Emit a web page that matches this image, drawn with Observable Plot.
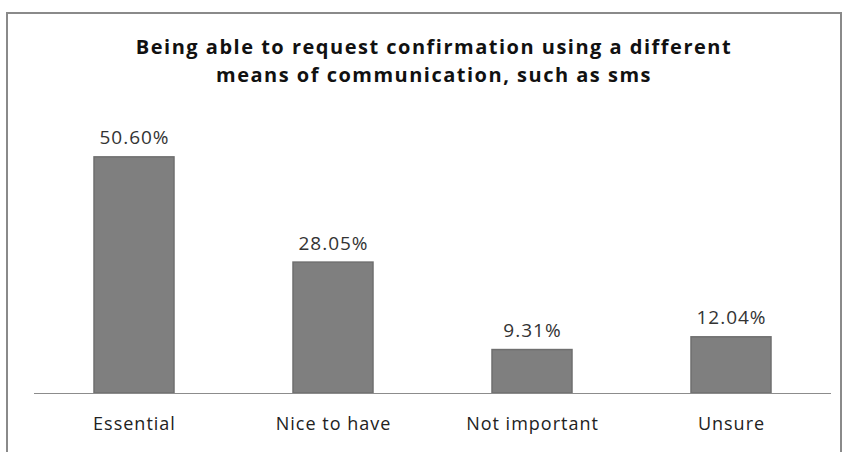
<!DOCTYPE html>
<html>
<head>
<meta charset="utf-8">
<script src="https://cdn.jsdelivr.net/npm/d3@7"></script>
<script src="https://cdn.jsdelivr.net/npm/@observablehq/plot@0.6"></script>
<style>
  html, body { margin: 0; padding: 0; background: #fff; }
  #wrap { position: relative; width: 844px; height: 452px; overflow: hidden; }
  #frame { position: absolute; left: 6px; top: 12px; width: 836px; height: 460px; border: 2px solid #8a8a8a; box-sizing: border-box; }
  #title { position: absolute; left: 0; top: 33px; width: 868px; text-align: center; font-family: "Open Sans", Lato, sans-serif; font-weight: bold; font-size: 20px; letter-spacing: 1.5px; line-height: 28px; color: #111; }
  #chart { position: absolute; left: 0; top: 0; }
</style>
</head>
<body>
<div id="wrap">
  <div id="frame"></div>
  <div id="chart"></div>
  <div id="title">Being able to request confirmation using a different<br>means of communication, such as sms</div>
</div>
<script>
const categories = ["Essential", "Nice to have", "Not important", "Unsure"];
const values = [50.60, 28.05, 9.31, 12.04];
const labels = ["50.60%", "28.05%", "9.31%", "12.04%"];

const data = categories.map((c, i) => ({category: c, value: values[i], label: labels[i]}));

const chart = Plot.plot({
  width: 844,
  height: 452,
  marginLeft: 34,
  marginRight: 13,
  marginTop: 113,
  marginBottom: 59,
  style: {background: "transparent", fontFamily: "'Open Sans', Lato, sans-serif", letterSpacing: "1px"},
  x: {domain: categories, paddingInner: 0.6, paddingOuter: 0.3, label: null},
  y: {domain: [0, 60], axis: null},
  marks: [
    Plot.barY(data, {x: "category", y: "value", fill: "#7f7f7f", stroke: "#6f6f6f", strokeWidth: 1.5}),
    Plot.ruleY([0], {stroke: "#8c8c8c", strokeWidth: 1.2}),
    Plot.text(data, {x: "category", y: "value", text: "label", lineAnchor: "bottom", dy: -13, fontSize: 19, fill: "#333"}),
    Plot.axisX({tickSize: 0, tickPadding: 24, fontSize: 18, color: "#222", label: null})
  ]
});
document.getElementById("chart").appendChild(chart);
</script>
</body>
</html>
